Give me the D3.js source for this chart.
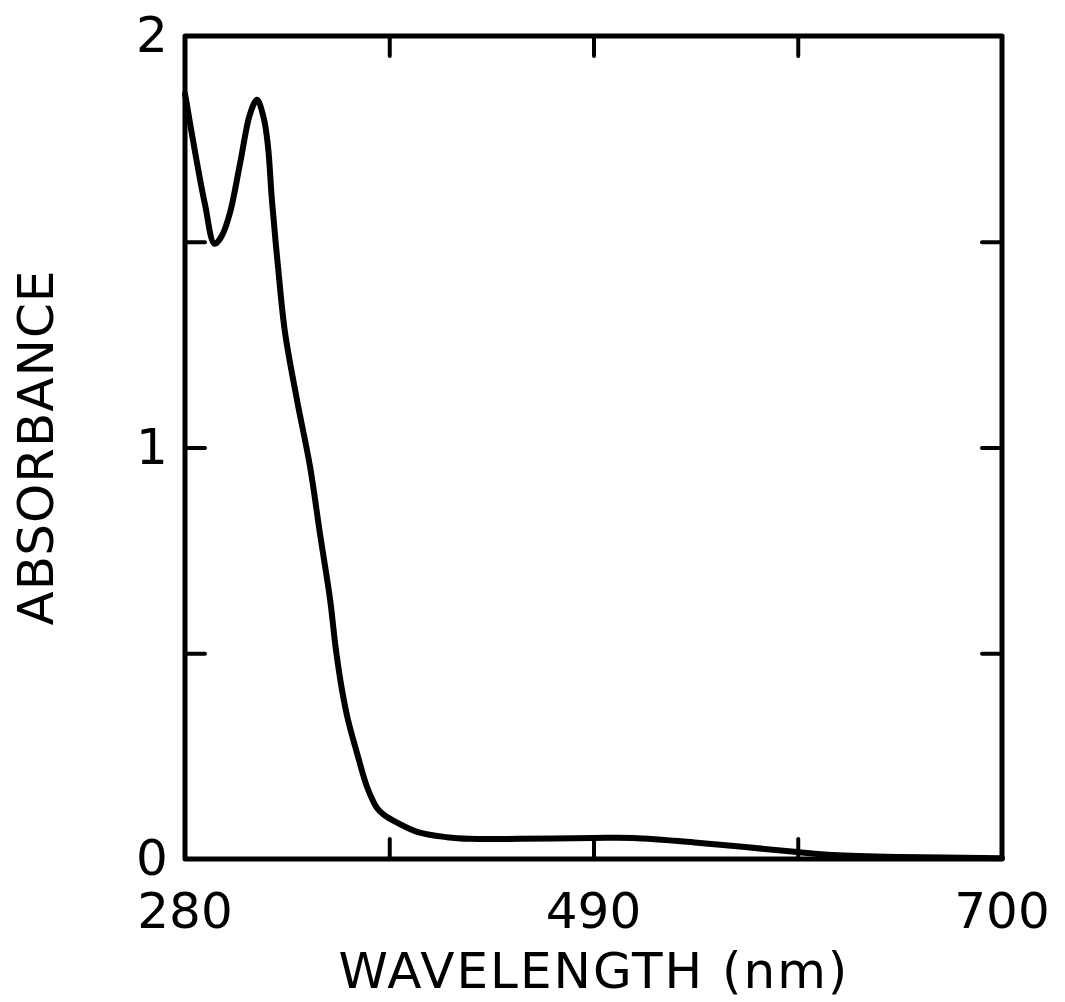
<!DOCTYPE html>
<html>
<head>
<meta charset="utf-8">
<script src="https://cdn.jsdelivr.net/npm/d3@7"></script>
<style>
  html, body { margin: 0; padding: 0; background: #fff; }
  svg { display: block; }
  text { font-family: "DejaVu Sans", sans-serif; fill: #000; }
</style>
</head>
<body>
<svg id="chart" width="1065" height="1002"></svg>
<script>
// Data
const wavelength = [280, 285.1, 290.3, 295.2, 299, 303.1, 308.3, 313.4, 317, 320.5, 322.7, 324.7, 327.8, 331.4, 337.6, 344.3, 349.4, 354.6, 357.6, 360.7, 363.8, 368.4, 373.6, 378.7, 382.3, 386.4, 399.3, 414.7, 426.5, 452.2, 489.8, 510.3, 544.8, 594.7, 613.2, 647.6, 700];
const absorbance = [1.86, 1.72, 1.59, 1.495, 1.515, 1.57, 1.69, 1.81, 1.845, 1.80, 1.73, 1.60, 1.44, 1.28, 1.115, 0.953, 0.79, 0.63, 0.508, 0.411, 0.338, 0.258, 0.175, 0.124, 0.107, 0.095, 0.066, 0.053, 0.049, 0.049, 0.051, 0.051, 0.039, 0.017, 0.010, 0.005, 0.002];

const xTicks = [280, 385, 490, 595, 700];
const xTickLabels = ["280", "", "490", "", "700"];
const yTicks = [0, 0.5, 1, 1.5, 2];
const yTickLabels = ["0", "", "1", "", "2"];
const xTitle = "WAVELENGTH (nm)";
const yTitle = "ABSORBANCE";

const svg = d3.select("#chart");
const L = 185, R = 1002, T = 36, B = 859;
const x = d3.scaleLinear().domain([280, 700]).range([L, R]);
const y = d3.scaleLinear().domain([0, 2]).range([B, T]);
const tickLen = 20;

const g = svg.append("g");

const tickStyle = sel => {
  sel.select(".domain").remove();
  sel.selectAll(".tick line").attr("stroke", "#000").attr("stroke-width", 4).attr("stroke-linecap", "round");
  sel.selectAll(".tick text").remove();
};
const inner = v => v !== x.domain()[0] && v !== x.domain()[1];
const innerY = v => v !== y.domain()[0] && v !== y.domain()[1];

g.append("g").attr("transform", `translate(0,${B})`)
  .call(d3.axisBottom(x).tickValues(xTicks.filter(inner)).tickSizeInner(-tickLen).tickSizeOuter(0))
  .call(tickStyle);
g.append("g").attr("transform", `translate(0,${T})`)
  .call(d3.axisTop(x).tickValues(xTicks.filter(inner)).tickSizeInner(-tickLen).tickSizeOuter(0))
  .call(tickStyle);
g.append("g").attr("transform", `translate(${L},0)`)
  .call(d3.axisLeft(y).tickValues(yTicks.filter(innerY)).tickSizeInner(-tickLen).tickSizeOuter(0))
  .call(tickStyle);
g.append("g").attr("transform", `translate(${R},0)`)
  .call(d3.axisRight(y).tickValues(yTicks.filter(innerY)).tickSizeInner(-tickLen).tickSizeOuter(0))
  .call(tickStyle);

// Frame
g.append("rect")
  .attr("x", L).attr("y", T).attr("width", R - L).attr("height", B - T)
  .attr("fill", "none").attr("stroke", "#000").attr("stroke-width", 5)
  .attr("stroke-linejoin", "round");

// Curve
const pts = wavelength.map((w, i) => [w, absorbance[i]]);
g.append("path")
  .datum(pts)
  .attr("fill", "none")
  .attr("stroke", "#000")
  .attr("stroke-width", 6)
  .attr("stroke-linejoin", "round")
  .attr("stroke-linecap", "round")
  .attr("d", d3.line().x(d => x(d[0])).y(d => y(d[1])).curve(d3.curveCatmullRom.alpha(0.5)));

// Tick labels
const fs = 50;
g.selectAll(".xl").data(xTicks).join("text")
  .attr("x", d => x(d)).attr("y", 928)
  .attr("text-anchor", "middle").attr("font-size", fs)
  .text((d, i) => xTickLabels[i]);
g.selectAll(".yl").data(yTicks).join("text")
  .attr("x", 152).attr("y", d => y(d) + 16)
  .attr("text-anchor", "middle").attr("font-size", fs)
  .text((d, i) => yTickLabels[i]);

// Titles
g.append("text").attr("x", 594).attr("y", 988)
  .attr("text-anchor", "middle").attr("font-size", fs)
  .attr("letter-spacing", 2)
  .text(xTitle);
g.append("text")
  .attr("transform", `translate(53,${(T + B) / 2}) rotate(-90)`)
  .attr("text-anchor", "middle").attr("font-size", fs)
  .attr("letter-spacing", 1)
  .text(yTitle);
</script>
</body>
</html>
